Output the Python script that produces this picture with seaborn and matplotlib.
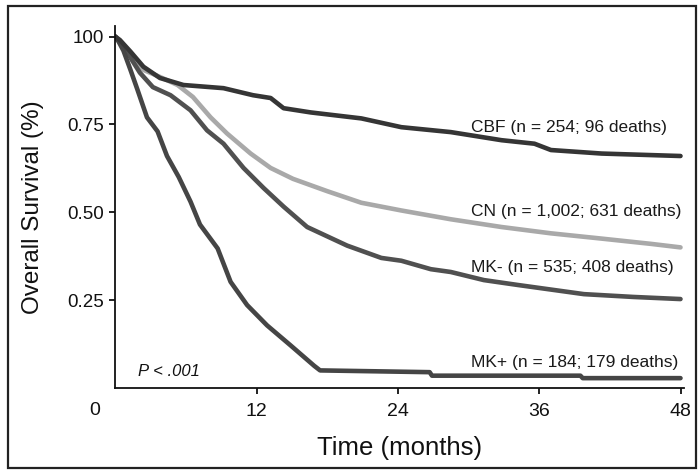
import numpy as np
import pandas as pd
import matplotlib
matplotlib.use("Agg")
import matplotlib.pyplot as plt
from matplotlib.patches import Rectangle
import seaborn as sns

# ---- data (months, survival fraction) ----
cbf_t = [0, 0.4, 1.3, 2.4, 3.8, 5.8, 9.2, 11.7, 13.2, 14.3, 16.6, 20.9, 24.3, 28.5, 32.8, 35.6, 37.0, 41.3, 48.0]
cbf_s = [1.0, 0.99, 0.957, 0.914, 0.882, 0.862, 0.853, 0.833, 0.825, 0.796, 0.784, 0.767, 0.742, 0.728, 0.705, 0.695, 0.677, 0.667, 0.66]

cn_t = [0, 0.5, 1.2, 2.4, 3.8, 5.3, 6.6, 8.1, 9.5, 11.5, 13.2, 15.1, 18.0, 20.9, 24.3, 28.5, 32.8, 37.0, 41.3, 45.5, 48.0]
cn_s = [1.0, 0.985, 0.95, 0.905, 0.885, 0.862, 0.828, 0.77, 0.724, 0.667, 0.626, 0.595, 0.56, 0.527, 0.505, 0.48, 0.458, 0.44, 0.425, 0.41, 0.40]

mkneg_t = [0, 0.5, 1.2, 2.1, 3.2, 4.7, 6.4, 7.8, 9.2, 10.9, 12.6, 14.3, 16.3, 19.7, 22.6, 24.3, 26.8, 28.5, 31.3, 34.2, 39.8, 44.0, 48.0]
mkneg_s = [1.0, 0.98, 0.945, 0.897, 0.856, 0.833, 0.79, 0.733, 0.695, 0.626, 0.569, 0.516, 0.458, 0.405, 0.37, 0.362, 0.338, 0.33, 0.307, 0.293, 0.267, 0.259, 0.253]

mkpos_t = [0, 0.3, 0.7, 1.3, 1.9, 2.7, 3.6, 4.4, 5.4, 6.4, 7.2, 8.7, 9.8, 11.2, 12.9, 14.9, 16.9, 17.4, 26.7, 26.9, 39.5, 39.7, 48.0]
mkpos_s = [1.0, 0.985, 0.96, 0.905, 0.848, 0.77, 0.73, 0.66, 0.6, 0.53, 0.465, 0.397, 0.302, 0.236, 0.178, 0.121, 0.063, 0.05, 0.045, 0.035, 0.035, 0.028, 0.028]

groups = ["CBF", "CN", "MK-", "MK+"]
labels = ["CBF (n = 254; 96 deaths)", "CN (n = 1,002; 631 deaths)",
          "MK- (n = 535; 408 deaths)", "MK+ (n = 184; 179 deaths)"]
label_y = [0.741, 0.503, 0.342, 0.072]
label_x = 30.2

xticks = [12, 24, 36, 48]
yticks = [0.25, 0.50, 0.75, 1.00]
ytick_labels = ["0.25", "0.50", "0.75", "100"]

colors = {"CBF": "#353535", "CN": "#a9a9a9", "MK-": "#505050", "MK+": "#454545"}

frames = []
for g, t, s in zip(groups, [cbf_t, cn_t, mkneg_t, mkpos_t], [cbf_s, cn_s, mkneg_s, mkpos_s]):
    frames.append(pd.DataFrame({"time": t, "surv": s, "group": g}))
df = pd.concat(frames, ignore_index=True)

sns.set_theme(style="white")
plt.rcParams["font.family"] = ["Liberation Sans", "DejaVu Sans"]

fig = plt.figure(figsize=(6.98, 4.72), dpi=100)
ax = fig.add_axes([0.165, 0.178, 0.815, 0.767])

sns.lineplot(data=df, x="time", y="surv", hue="group", palette=colors,
             hue_order=["CN", "MK-", "MK+", "CBF"], linewidth=3.3,
             legend=False, ax=ax, estimator=None, sort=False)

ax.set_xlim(0, 48.3)
ax.set_ylim(0, 1.03)
ax.set_xticks(xticks)
ax.set_xticklabels([str(v) for v in xticks], fontsize=14, color="#111111")
ax.set_yticks(yticks)
ax.set_yticklabels(ytick_labels, fontsize=13.5, color="#111111")
ax.tick_params(axis="x", bottom=True, length=4.5, width=1.3, pad=6, color="#111111")
ax.tick_params(axis="y", left=True, length=4, width=1.3, pad=4, color="#111111")

for side in ["top", "right"]:
    ax.spines[side].set_visible(False)
for side in ["left", "bottom"]:
    ax.spines[side].set_color("#111111")
    ax.spines[side].set_linewidth(1.3)

ax.set_xlabel("Time (months)", fontsize=18.5, color="#111111", labelpad=12)
ax.set_ylabel("Overall Survival (%)", fontsize=17.5, color="#111111", labelpad=17)

# origin label "0"
ax.text(-1.75, -0.064, "0", fontsize=14, color="#111111", ha="center", va="center",
        transform=ax.transData, clip_on=False)

for lab, yy in zip(labels, label_y):
    ax.text(label_x, yy, lab, fontsize=12.5, color="#1a1a1a", ha="left", va="center")

ax.text(1.96, 0.046, "P < .001", fontsize=12, style="italic", color="#111111",
        ha="left", va="center")

ax.grid(False)

# outer frame around the figure
fig.patches.append(Rectangle((0.0115, 0.009), 0.985, 0.979, transform=fig.transFigure,
                             fill=False, edgecolor="#222222", linewidth=1.6))

fig.savefig("out.png", dpi=100)
